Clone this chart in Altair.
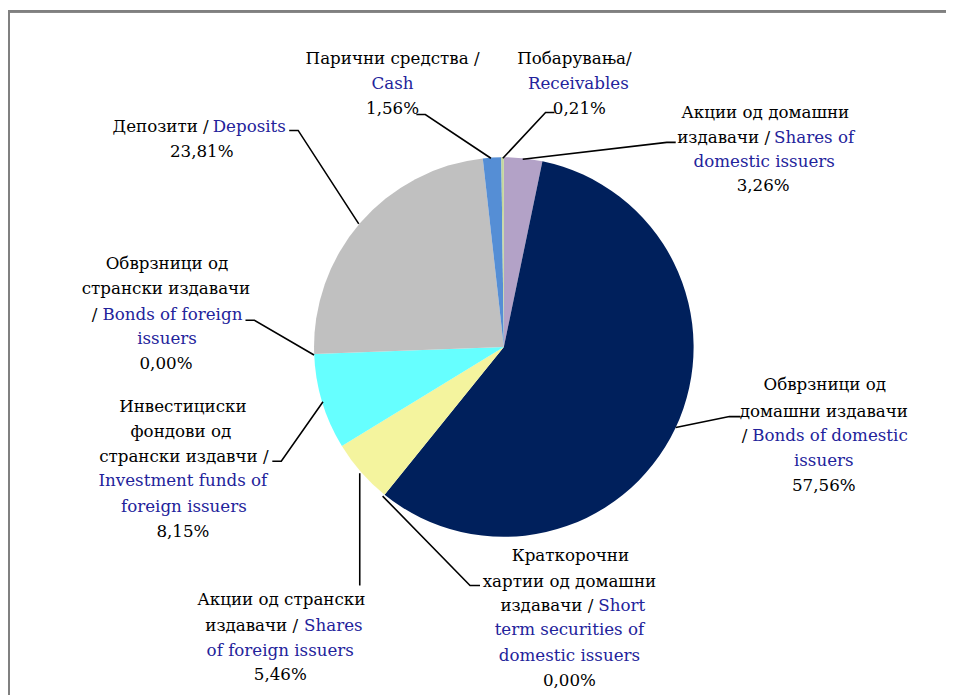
import altair as alt
import pandas as pd

# ---- data ----
names_mk = ["Акции од домашни издавачи", "Обврзници од домашни издавачи",
            "Краткорочни хартии од домашни издавачи", "Акции од странски издавачи",
            "Инвестициски фондови од странски издавчи", "Обврзници од странски издавачи",
            "Депозити", "Парични средства", "Побарувања"]
names_en = ["Shares of domestic issuers", "Bonds of domestic issuers",
            "Short term securities of domestic issuers", "Shares of foreign issuers",
            "Investment funds of foreign issuers", "Bonds of foreign issuers",
            "Deposits", "Cash", "Receivables"]
values = [3.26, 57.56, 0.00, 5.46, 8.15, 0.00, 23.81, 1.56, 0.21]
colors = ["#B3A2C7", "#00205C", "#4F81BD", "#F4F49E", "#66FFFF", "#9BBB59",
          "#C0C0C0", "#558ED5", "#C3D69B"]

def pct(i):
    return f"{values[i]:.2f}".replace(".", ",") + "%"

# ---- layout (page pixel coords; chart origin at 8,8) ----
W, H = 944, 689
OFF = 8
CX, CY, R = 507, 347, 191
K, B = "#000000", "#23239B"

label_lines = [
    ("Парични средства /", 395, 57, "center", K), ("Cash", 395, 82, "center", B), (pct(7), 395, 107, "center", K),
    ("Побарувања/", 578, 57, "center", K), ("Receivables", 582, 82, "center", B), (pct(8), 583, 107, "center", K),
    ("Акции од домашни", 770, 112, "center", K), ("издавачи /", 775, 137, "right", K),
    ("Shares of", 779, 137, "left", B), ("domestic issuers", 769, 161, "center", B), (pct(0), 768, 185, "center", K),
    ("Обврзници од", 830, 385, "center", K), ("домашни издавачи", 829, 412, "center", K),
    ("/", 752, 437, "right", K), ("Bonds of domestic", 757, 437, "left", B),
    ("issuers", 829, 462, "center", B), (pct(1), 829, 487, "center", K),
    ("Краткорочни", 574, 557, "center", K), ("хартии од домашни", 573, 583, "center", K),
    ("издавачи  /", 597, 608, "right", K), ("Short", 602, 608, "left", B),
    ("term securities of", 573, 632, "center", B), ("domestic issuers", 573, 658, "center", B),
    (pct(2), 573, 683, "center", K),
    ("Акции од странски", 283, 602, "center", K), ("издавачи  /", 300, 628, "right", K),
    ("Shares", 306, 628, "left", B), ("of foreign issuers", 282, 653, "center", B), (pct(3), 282, 677, "center", K),
    ("Инвестициски", 184, 407, "center", K), ("фондови од", 182, 433, "center", K),
    ("странски издавчи /", 185, 458, "center", K), ("Investment funds of", 184, 482, "center", B),
    ("foreign issuers", 185, 508, "center", B), (pct(4), 184, 533, "center", K),
    ("Обврзници од", 168, 263, "center", K), ("странски издавачи", 167, 289, "center", K),
    ("/", 98, 315, "right", K), ("Bonds of foreign", 103, 315, "left", B),
    ("issuers", 168, 339, "center", B), (pct(5), 167, 364, "center", K),
    ("Депозити /", 210, 126, "right", K), ("Deposits", 214, 126, "left", B), (pct(6), 203, 151, "center", K),
]

leaders = [
    [(419, 113), (428, 113), (494, 157)],
    [(558, 111), (549, 111), (506, 157)],
    [(680, 141), (671, 141), (526, 158)],
    [(745, 417), (734, 417), (680, 428)],
    [(483, 587), (473, 587), (385, 497)],
    [(362, 587), (362, 474)],
    [(274, 462), (283, 462), (325, 402)],
    [(247, 320), (256, 320), (316, 355)],
    [(291, 129), (300, 129), (361, 223)],
]

pie_df = pd.DataFrame({"idx": list(range(len(values))), "name": names_en, "value": values})
lab_df = pd.DataFrame([{"t": t, "x": x - OFF, "y": y - OFF, "align": a, "col": c}
                       for (t, x, y, a, c) in label_lines])
lead_df = pd.DataFrame([{"g": gi, "o": pi, "x": p[0] - OFF, "y": p[1] - OFF}
                        for gi, pts in enumerate(leaders) for pi, p in enumerate(pts)])

xs = alt.Scale(domain=[0, W], nice=False, zero=False)
ys = alt.Scale(domain=[0, H], nice=False, zero=False, reverse=True)
FONT = "DejaVu Serif"
FS = 16.8

pie = alt.Chart(pie_df).mark_arc(outerRadius=R, strokeWidth=0).encode(
    theta=alt.Theta("value:Q", stack=True),
    order=alt.Order("idx:Q"),
    color=alt.Color("name:N", scale=alt.Scale(domain=names_en, range=colors), legend=None),
    x=alt.value(CX - OFF), y=alt.value(CY - OFF),
)

lines = alt.Chart(lead_df).mark_line(color="#000000", strokeWidth=1.6).encode(
    x=alt.X("x:Q", scale=xs, axis=None),
    y=alt.Y("y:Q", scale=ys, axis=None),
    detail="g:N", order="o:Q",
)

def text_layer(al):
    return alt.Chart(lab_df).transform_filter(alt.datum.align == al).mark_text(
        align=al, baseline="middle", font=FONT, fontSize=FS
    ).encode(
        x=alt.X("x:Q", scale=xs, axis=None),
        y=alt.Y("y:Q", scale=ys, axis=None),
        text="t:N",
        color=alt.Color("col:N", scale=None),
    )

frame_top = alt.Chart(pie_df).mark_rule(color="#808080", strokeWidth=2).encode(
    x=alt.value(0), x2=alt.value(W), y=alt.value(1))
frame_left = alt.Chart(pie_df).mark_rule(color="#808080", strokeWidth=2).encode(
    x=alt.value(1), y=alt.value(0), y2=alt.value(H))

chart = alt.layer(
    pie, lines, text_layer("center"), text_layer("left"), text_layer("right"),
    frame_top, frame_left
).properties(
    width=W, height=H, padding=0, autosize=alt.AutoSizeParams(type="none"),
    background="white"
).configure_view(stroke=None)

chart.save("out.html", embed_options={"renderer": "svg", "actions": False})
